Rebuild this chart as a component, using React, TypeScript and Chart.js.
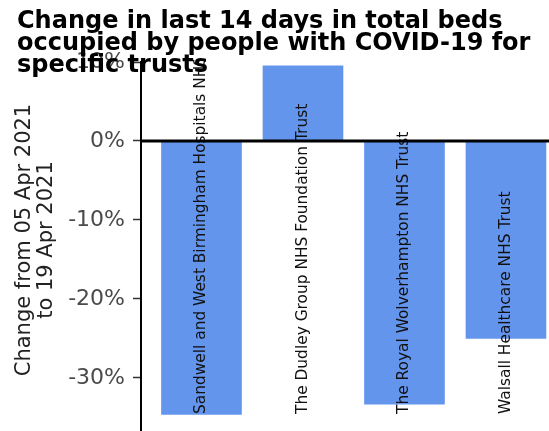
import React, { useEffect, useRef } from 'react';
import { Chart, registerables } from 'chart.js';

Chart.register(...registerables);

const categories = [
  'Sandwell and West Birmingham Hospitals NHS Trust',
  'The Dudley Group NHS Foundation Trust',
  'The Royal Wolverhampton NHS Trust',
  'Walsall Healthcare NHS Trust',
];
const changePct = [-34.6, 9.5, -33.3, -25.0];
const yTickValues = [-30, -20, -10, 0, 10];
const titleLines = [
  'Change in last 14 days in total beds',
  'occupied by people with COVID-19 for',
  'specific trusts',
];
const yTitleLines = ['Change from 05 Apr 2021', 'to 19 Apr 2021'];

const FONT = '"DejaVu Sans", sans-serif';

const overlayPlugin = {
  id: 'overlay',
  afterDatasetsDraw(chart: any) {
    const { ctx, chartArea } = chart;
    const meta = chart.getDatasetMeta(0);
    // category labels inside bars
    ctx.save();
    ctx.beginPath();
    ctx.rect(chartArea.left, chartArea.top - 2, chartArea.right - chartArea.left, chartArea.bottom - chartArea.top + 2);
    ctx.clip();
    ctx.font = `15.4px ${FONT}`;
    ctx.fillStyle = '#111';
    ctx.textAlign = 'left';
    ctx.textBaseline = 'middle';
    meta.data.forEach((bar: any, i: number) => {
      ctx.save();
      ctx.translate(bar.x, 414);
      ctx.rotate(-Math.PI / 2);
      ctx.fillText(categories[i], 0, 0);
      ctx.restore();
    });
    ctx.restore();
    // zero line
    const y0 = chart.scales.y.getPixelForValue(0);
    ctx.save();
    ctx.strokeStyle = '#000';
    ctx.lineWidth = 3;
    ctx.beginPath();
    ctx.moveTo(chartArea.left, y0);
    ctx.lineTo(chartArea.right, y0);
    ctx.stroke();
    ctx.restore();
  },
  afterDraw(chart: any) {
    const { ctx } = chart;
    // y axis title
    ctx.save();
    ctx.font = `21px ${FONT}`;
    ctx.fillStyle = '#222';
    ctx.textAlign = 'center';
    ctx.textBaseline = 'middle';
    yTitleLines.forEach((line, i) => {
      ctx.save();
      ctx.translate(25 + i * 22, 240);
      ctx.rotate(-Math.PI / 2);
      ctx.fillText(line, 0, 0);
      ctx.restore();
    });
    ctx.restore();
    // chart title
    ctx.save();
    ctx.font = `bold 24px ${FONT}`;
    ctx.fillStyle = '#000';
    ctx.textAlign = 'left';
    ctx.textBaseline = 'alphabetic';
    titleLines.forEach((line, i) => {
      ctx.fillText(line, 17, 27.5 + i * 22.2);
    });
    ctx.restore();
  },
};

export default function App() {
  const ref = useRef<HTMLCanvasElement | null>(null);
  useEffect(() => {
    if (!ref.current) return;
    const chart = new Chart(ref.current, {
      type: 'bar',
      data: {
        datasets: [
          {
            data: changePct.map((v, i) => ({ x: i, y: v })),
            backgroundColor: '#6495ED',
            borderWidth: 0,
            barThickness: 80,
          },
        ],
      },
      options: {
        responsive: false,
        animation: false,
        devicePixelRatio: 1,
        layout: { padding: { top: 62, left: 0, right: 0, bottom: 0 } },
        plugins: { legend: { display: false }, title: { display: false }, tooltip: { enabled: false } },
        scales: {
          x: {
            type: 'linear',
            offset: false,
            min: -0.596,
            max: 3.424,
            display: false,
            grid: { offset: false },
            afterBuildTicks: (s: any) => {
              s.ticks = [0, 1, 2, 3].map((v) => ({ value: v }));
            },
          },
          y: {
            type: 'linear',
            min: -36.71,
            max: 10,
            afterBuildTicks: (s: any) => {
              s.ticks = yTickValues.map((v) => ({ value: v }));
            },
            afterFit: (s: any) => {
              s.width = 141;
              s.paddingTop = 0;
              s.paddingBottom = 0;
            },
            ticks: {
              callback: (v: any) => `${v}%`,
              color: '#4a4a4a',
              font: { family: 'DejaVu Sans', size: 22 },
              padding: 8,
            },
            grid: {
              display: true,
              drawOnChartArea: false,
              drawTicks: true,
              tickLength: 8,
              tickColor: '#333',
              tickWidth: 1.5,
            },
            border: { display: true, color: '#000', width: 2 },
          },
        },
      },
      plugins: [overlayPlugin],
    } as any);
    return () => chart.destroy();
  }, []);
  return (
    <div style={{ position: 'fixed', left: 0, top: 0, width: 549, height: 431, background: '#fff' }}>
      <canvas ref={ref} width={549} height={431} style={{ display: 'block' }} />
    </div>
  );
}
